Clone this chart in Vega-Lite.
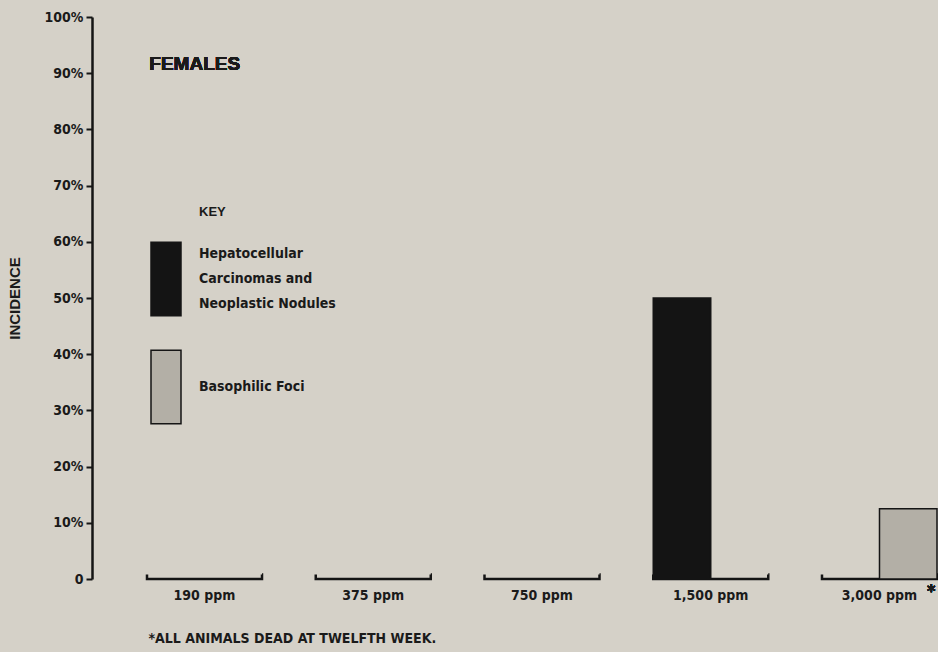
{
  "$schema": "https://vega.github.io/schema/vega-lite/v6.json",
  "width": 846,
  "height": 562,
  "autosize": "none",
  "padding": {"left": 92, "top": 17, "right": 0, "bottom": 73},
  "background": "#d5d1c8",
  "config": {"view": {"stroke": null}, "font": "Liberation Sans Narrow, DejaVu Sans Condensed, sans-serif"},
  "data": {
    "values": [
      {"dose": "190 ppm", "series": "Hepatocellular|Carcinomas and|Neoplastic Nodules", "value": 0},
      {"dose": "190 ppm", "series": "Basophilic Foci", "value": 0},
      {"dose": "375 ppm", "series": "Hepatocellular|Carcinomas and|Neoplastic Nodules", "value": 0},
      {"dose": "375 ppm", "series": "Basophilic Foci", "value": 0},
      {"dose": "750 ppm", "series": "Hepatocellular|Carcinomas and|Neoplastic Nodules", "value": 0},
      {"dose": "750 ppm", "series": "Basophilic Foci", "value": 0},
      {"dose": "1,500 ppm", "series": "Hepatocellular|Carcinomas and|Neoplastic Nodules", "value": 50},
      {"dose": "1,500 ppm", "series": "Basophilic Foci", "value": 0},
      {"dose": "3,000 ppm", "series": "Hepatocellular|Carcinomas and|Neoplastic Nodules", "value": 0},
      {"dose": "3,000 ppm", "series": "Basophilic Foci", "value": 12.5}
    ]
  },
  "layer": [
    {
      "transform": [{"filter": "datum.series == 'Basophilic Foci'"}],
      "mark": {"type": "bar", "fill": null, "fillOpacity": 0, "stroke": "#151515", "strokeWidth": 2.5, "strokeDash": [0, 115, 124, 0]},
      "encoding": {
        "x": {
          "field": "dose", "type": "nominal", "sort": null,
          "scale": {"domain": ["190 ppm", "375 ppm", "750 ppm", "1,500 ppm", "3,000 ppm"], "range": [55, 845], "paddingInner": 0.3185, "paddingOuter": 0},
          "axis": {
            "title": "*ALL ANIMALS DEAD AT TWELFTH WEEK.",
            "domain": false, "ticks": false, "labelAngle": 0, "labelPadding": 9,
            "labelFontSize": 14, "labelFontWeight": "bold", "labelColor": "#1a1a1a",
            "titleFontSize": 14, "titleFontWeight": "bold", "titleColor": "#1a1a1a",
            "titleAnchor": "start", "titleAlign": "left", "titleX": 56, "titleY": 59, "titleBaseline": "middle"
          }
        },
        "y": {"datum": 0},
        "y2": {"datum": 0.8}
      }
    },
    {
      "mark": {"type": "bar", "stroke": "#151515", "strokeWidth": 1.5},
      "encoding": {
        "x": {"field": "dose", "type": "nominal", "sort": null},
        "xOffset": {"field": "series", "type": "nominal", "sort": null,
          "scale": {"domain": ["Hepatocellular|Carcinomas and|Neoplastic Nodules", "Basophilic Foci"], "paddingInner": 0, "paddingOuter": 0}},
        "y": {
          "field": "value", "type": "quantitative",
          "scale": {"domain": [0, 100]},
          "axis": {
            "title": "INCIDENCE",
            "values": [0, 10, 20, 30, 40, 50, 60, 70, 80, 90, 100],
            "labelExpr": "datum.value == 0 ? '0' : datum.value + '%'",
            "grid": false,
            "domainColor": "#151515", "domainWidth": 2.5,
            "tickColor": "#151515", "tickWidth": 2, "tickSize": 6,
            "labelPadding": 3, "labelFontSize": 14, "labelFontWeight": "bold", "labelColor": "#1a1a1a",
            "titleFont": "Liberation Sans", "titleFontSize": 15, "titleFontWeight": "bold", "titleColor": "#1a1a1a",
            "titleX": -78, "titleY": 281, "titleAngle": -90, "titleBaseline": "middle", "titleAlign": "center"
          }
        },
        "fill": {
          "field": "series", "type": "nominal",
          "scale": {"domain": ["Hepatocellular|Carcinomas and|Neoplastic Nodules", "Basophilic Foci"], "range": ["#141414", "#b3afa6"]},
          "legend": {
            "orient": "none", "legendX": 58, "legendY": 189,
            "title": "KEY", "titleFont": "Liberation Sans", "titleFontSize": 13, "titleFontWeight": "bold", "titleColor": "#1a1a1a", "titlePadding": 44,
            "symbolType": "M-1,-2.45H1V2.45H-1Z", "symbolSize": 900,
            "symbolStrokeColor": "#151515", "symbolStrokeWidth": 1.5, "symbolOpacity": 1,
            "labelFontSize": 14, "labelFontWeight": "bold", "labelColor": "#1a1a1a",
            "labelOffset": 17, "labelLimit": 300,
            "labelExpr": "split(datum.label, '|')",
            "rowPadding": 28, "padding": 0,
            "encode": {
              "title": {"update": {"dx": {"value": 49}}},
              "labels": {"update": {"lineHeight": {"value": 25}, "dy": {"signal": "indexof(datum.label, '|') >= 0 ? -25 : 0"}}}
            }
          }
        }
      }
    },
    {
      "mark": {"type": "text", "align": "left", "baseline": "middle", "font": "Liberation Sans", "fontSize": 19, "fontWeight": "bold", "fill": "#1a1a1a"},
      "encoding": {
        "x": {"datum": "190 ppm", "bandPosition": 0.02},
        "y": {"datum": 91.6},
        "text": {"value": "FEMALES"}
      }
    },
    {
      "mark": {"type": "text", "align": "center", "baseline": "middle", "fontSize": 18, "fontWeight": "bold", "fill": "#1a1a1a"},
      "encoding": {
        "x": {"datum": "3,000 ppm", "bandPosition": 0.95},
        "y": {"datum": -2.4},
        "text": {"value": "*"}
      }
    }
  ]
}
